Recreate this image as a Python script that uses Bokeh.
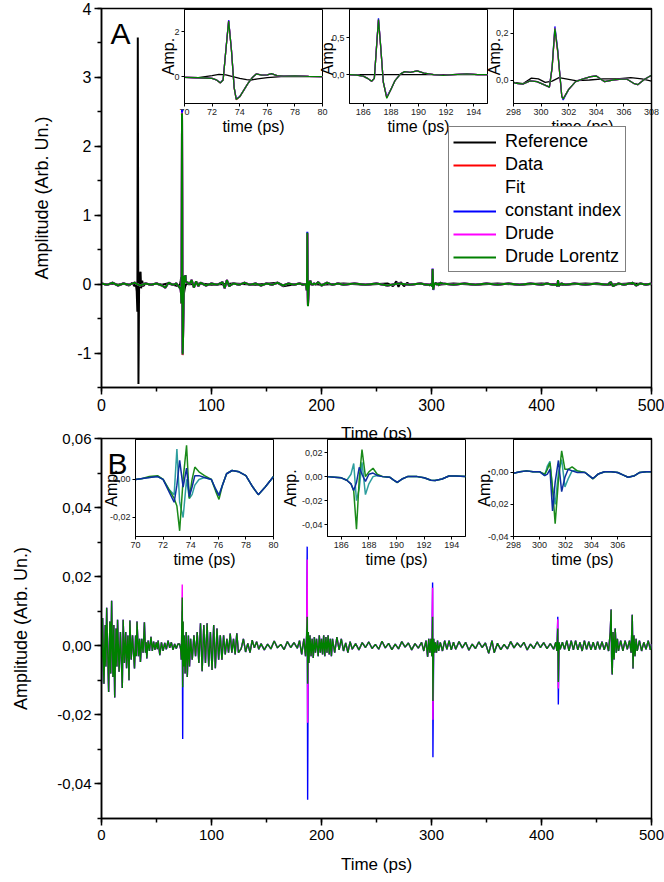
from bokeh.plotting import figure
from bokeh.models import (Range1d, SingleIntervalTicker, FixedTicker, CustomJSTickFormatter,
                          Legend, LegendItem, Label)
from bokeh.layouts import column
from bokeh.embed import file_html
from bokeh.resources import INLINE

FONT = "Liberation Sans"

# ---------------- Panel A data (time in ps, amplitude arb. un.) ----------------
tA_s1 = [0, 5, 10, 15, 20, 25, 30, 35, 40, 45, 50, 55, 58, 61, 65, 68]
baseA_s1 = [0.01, -0.01, 0.02, -0.02, 0.01, -0.01, 0.02, -0.02, 0.01, -0.01, 0.01, -0.02, -0.05, 0.02, -0.01, 0.01]
tA_w1 = [70, 71, 71.5, 72, 72.3, 72.6, 72.8, 73.0, 73.2, 73.4, 73.6, 73.75, 74.0, 74.3, 74.6, 74.9, 75.2, 75.6, 76.0, 76.3, 76.7, 77.2, 78, 79, 80]
dataA_w1 = [-0.03, -0.05, -0.06, -0.08, -0.14, -0.28, -0.15, 1.20, 2.50, 1.20, -0.50, -1.03, -0.90, -0.60, -0.30, -0.05, 0.12, 0.07, 0.08, 0.13, 0.05, 0.02, 0.03, 0.01, 0.00]
constA_w1 = [-0.03, -0.05, -0.06, -0.08, -0.14, -0.27, -0.14, 1.22, 2.53, 1.22, -0.48, -1.00, -0.89, -0.60, -0.30, -0.05, 0.12, 0.07, 0.08, 0.13, 0.05, 0.02, 0.03, 0.01, 0.00]
drudeA_w1 = [-0.03, -0.05, -0.06, -0.08, -0.14, -0.28, -0.15, 1.20, 2.49, 1.19, -0.50, -1.02, -0.90, -0.60, -0.30, -0.05, 0.12, 0.07, 0.08, 0.13, 0.05, 0.02, 0.03, 0.01, 0.00]
dlA_w1 = [-0.03, -0.05, -0.06, -0.08, -0.14, -0.28, -0.15, 1.19, 2.48, 1.19, -0.50, -1.02, -0.90, -0.60, -0.30, -0.05, 0.12, 0.07, 0.08, 0.13, 0.05, 0.02, 0.03, 0.01, 0.00]
tA_s2 = [82, 84, 86, 88, 90, 95, 100, 105, 110, 112, 114, 116, 120, 125, 130, 135, 140, 145, 150, 155, 160, 165, 170, 175, 180, 183]
baseA_s2 = [0.06, -0.05, 0.04, -0.03, 0.02, -0.02, 0.01, -0.01, 0.03, -0.06, 0.06, -0.03, 0.01, -0.01, 0.02, -0.01, 0.01, -0.02, 0.01, -0.01, 0.02, -0.02, 0.01, -0.01, 0.01, -0.01]
tA_w2 = [185, 185.5, 186, 186.3, 186.6, 186.8, 186.95, 187.1, 187.25, 187.45, 187.7, 188.0, 188.3, 188.7, 189.0, 189.4, 189.9, 190.4, 191.1, 191.8, 192.5, 193.5, 194.3, 195]
dataA_w2 = [0.0, -0.005, -0.02, -0.05, -0.09, -0.05, 0.35, 0.74, 0.40, -0.10, -0.31, -0.20, -0.08, 0.01, 0.04, 0.03, 0.05, 0.02, 0.0, -0.01, 0.0, 0.01, 0.0, 0.0]
constA_w2 = [0.0, -0.005, -0.02, -0.05, -0.09, -0.05, 0.36, 0.76, 0.41, -0.10, -0.30, -0.20, -0.08, 0.01, 0.04, 0.03, 0.05, 0.02, 0.0, -0.01, 0.0, 0.01, 0.0, 0.0]
drudeA_w2 = [0.0, -0.005, -0.02, -0.05, -0.09, -0.05, 0.35, 0.74, 0.40, -0.10, -0.31, -0.20, -0.08, 0.01, 0.04, 0.03, 0.05, 0.02, 0.0, -0.01, 0.0, 0.01, 0.0, 0.0]
dlA_w2 = [0.0, -0.005, -0.02, -0.05, -0.09, -0.05, 0.35, 0.745, 0.40, -0.10, -0.32, -0.20, -0.08, 0.01, 0.04, 0.03, 0.05, 0.02, 0.0, -0.01, 0.0, 0.01, 0.0, 0.0]
tA_s3 = [197, 200, 205, 210, 215, 220, 230, 240, 250, 260, 270, 280, 290, 295]
baseA_s3 = [0.03, -0.02, 0.02, -0.01, 0.01, -0.01, 0.01, -0.01, 0.01, -0.02, 0.01, -0.01, 0.01, -0.01]
tA_w3 = [298, 298.2, 298.7, 299.2, 299.7, 300.2, 300.6, 300.8, 301.0, 301.2, 301.5, 301.6, 302.0, 302.5, 303.0, 303.6, 304.0, 304.6, 305.2, 305.8, 306.2, 306.7, 307.0, 307.5, 308]
dataA_w3 = [-0.01, -0.014, -0.017, -0.004, -0.007, -0.02, -0.03, 0.05, 0.215, 0.12, -0.07, -0.08, -0.04, -0.007, 0.004, 0.014, 0.017, -0.007, 0.0, 0.004, 0.004, -0.014, -0.02, 0.003, 0.02]
constA_w3 = [-0.01, -0.014, -0.017, -0.004, -0.007, -0.02, -0.03, 0.055, 0.228, 0.13, -0.07, -0.085, -0.04, -0.007, 0.004, 0.014, 0.017, -0.007, 0.0, 0.004, 0.004, -0.014, -0.02, 0.003, 0.02]
drudeA_w3 = [-0.01, -0.014, -0.017, -0.004, -0.007, -0.02, -0.03, 0.055, 0.222, 0.125, -0.07, -0.08, -0.04, -0.007, 0.004, 0.014, 0.017, -0.007, 0.0, 0.004, 0.004, -0.014, -0.02, 0.003, 0.02]
dlA_w3 = [-0.01, -0.014, -0.017, -0.004, -0.007, -0.02, -0.03, 0.055, 0.220, 0.125, -0.07, -0.08, -0.04, -0.007, 0.004, 0.014, 0.017, -0.007, 0.0, 0.004, 0.004, -0.014, -0.02, 0.003, 0.02]
tA_s4 = [310, 320, 330, 340, 350, 360, 370, 380, 390, 400, 405, 410, 413, 414, 414.5, 415, 415.6, 416, 418, 422, 430, 440, 450, 460, 463, 465, 470, 475, 480, 483, 486, 490, 495, 500]
baseA_s4 = [0.01, -0.01, 0.01, -0.01, 0.01, -0.01, 0.01, -0.01, 0.01, -0.01, 0.01, -0.01, -0.01, -0.02, -0.03, 0.06, -0.03, -0.02, 0.01, -0.01, 0.01, -0.01, 0.01, -0.01, 0.03, -0.03, 0.01, -0.01, 0.01, 0.02, -0.02, 0.01, -0.01, 0.01]

tA = tA_s1 + tA_w1 + tA_s2 + tA_w2 + tA_s3 + tA_w3 + tA_s4
dataA = baseA_s1 + dataA_w1 + baseA_s2 + dataA_w2 + baseA_s3 + dataA_w3 + baseA_s4
constA = baseA_s1 + constA_w1 + baseA_s2 + constA_w2 + baseA_s3 + constA_w3 + baseA_s4
drudeA = baseA_s1 + drudeA_w1 + baseA_s2 + drudeA_w2 + baseA_s3 + drudeA_w3 + baseA_s4
dlA = baseA_s1 + dlA_w1 + baseA_s2 + dlA_w2 + baseA_s3 + dlA_w3 + baseA_s4

tRef = [0, 5, 10, 15, 20, 25, 28, 30, 31, 32, 32.6, 33.0, 33.6, 34.2, 35.0, 35.5, 36.0, 37, 38, 40,
        45, 50, 55, 60, 65, 70, 71, 72, 72.5, 73, 73.5, 74, 74.5, 74.8, 75.3, 76, 77, 78, 79, 80,
        90, 100, 120, 140, 160, 165, 180, 185, 190, 195, 200, 220, 240, 260, 265, 268, 270, 272, 275, 278,
        280, 290, 298, 298.7, 299.3, 299.8, 300.3, 300.8, 301.3, 301.8, 302.5, 303.5, 304.5, 305.5, 306.5, 307.3, 308, 320, 340, 360,
        380, 400, 420, 440, 460, 480, 500]
refA = [0.01, -0.01, 0.01, -0.01, 0.01, -0.02, 0.02, -0.03, 0.03, -0.1, -0.4, 3.58, -1.45, 0.05, 0.15, 0.18, -0.06, 0.05, -0.03, 0.01,
        -0.01, 0.01, -0.01, 0.01, -0.01, -0.03, -0.04, 0.05, 0.1, 0.08, 0.0, -0.08, -0.13, -0.15, -0.1, -0.04, 0.0, 0.01, 0.0, 0.0,
        0.01, -0.01, 0.01, -0.01, 0.02, -0.03, 0.01, 0.0, 0.0, 0.0, -0.01, 0.01, -0.01, 0.01, -0.03, 0.04, -0.04, 0.03, -0.03, 0.02,
        -0.01, 0.01, -0.01, -0.015, 0.008, 0.005, -0.01, -0.005, 0.01, 0.005, -0.003, 0.0, 0.005, 0.005, 0.01, 0.005, -0.005, 0.01, -0.01, 0.01,
        -0.01, 0.01, -0.01, 0.01, -0.01, 0.01, 0.0]

# ---------------- Panel B data (residual amplitudes) ----------------
tB_s1 = [0.0, 1.0, 2.2, 3.4, 4.0, 4.7, 6.5, 7.6, 8.4, 9.2, 10.4, 11.2, 12.0, 13.2, 14.0, 14.6, 16.0, 17.2, 18.9, 19.7,
         20.8, 22.0, 22.8, 24.0, 25.0, 25.8, 27.0, 28.2, 30.0, 31.0, 31.6, 32.3, 33.6, 34.6, 35.4, 36.6, 37.8, 39.0, 40.0, 40.6,
         41.2, 42.4, 43.6, 45.0, 46.2, 47.4, 48.6, 49.8, 50.8]
baseB_s1 = [-0.011, 0.008, -0.011, 0.006, -0.006, 0.011, -0.0134, 0.007, -0.008, 0.013,
            -0.009, 0.006, -0.015, 0.005, -0.006, 0.0075, -0.0075, 0.004, -0.0122, 0.0075,
            -0.005, 0.004, -0.0065, 0.003, -0.010, 0.0073, -0.004, 0.003, -0.0066, 0.003,
            -0.003, 0.007, -0.003, 0.002, -0.0047, 0.002, -0.002, 0.0068, -0.002, 0.001,
            -0.0037, 0.0015, -0.0015, 0.0026, -0.0015, 0.0012, -0.0012, 0.001, -0.001]
tB_s2 = [51.5, 53, 54.5, 56, 57.5, 59, 60.5, 62, 63.5, 65, 66.5, 68, 69.5]
baseB_s2 = [0.0015, -0.0027, 0.001, -0.0015, 0.0008, -0.001, 0.0015, -0.0006, 0.001, -0.0012, 0.0005, -0.0008, 0.0005]
tB_w1 = [71, 72, 72.6, 73.0, 73.4, 73.8, 74.2, 74.6, 75.2, 76, 77, 78, 79, 80]
dlB_w1 = [0.0005, -0.001, -0.004, 0.006, 0.014, -0.012, 0.007, -0.006, 0.003, -0.008, 0.004, -0.009, 0.003, -0.006]
constB_w1 = [0.0005, -0.001, -0.004, 0.004, 0.010, -0.027, 0.0065, -0.006, 0.003, -0.008, 0.004, -0.009, 0.003, -0.006]
drudeB_w1 = [0.0005, -0.001, -0.004, 0.006, 0.0177, -0.011, 0.007, -0.006, 0.003, -0.008, 0.004, -0.009, 0.003, -0.006]
tB_s3 = [81, 82.5, 84, 85.5, 87, 88.5, 90, 91.5, 93, 94.5, 96, 97.5, 99, 100.5, 102, 103.5, 105, 106.5, 108, 109.5,
         111, 112.5, 114, 115.5, 117, 118.5, 120, 121.5, 123, 124.5,
         127, 129, 131, 133, 135, 137, 139, 141, 143, 145,
         148, 151, 154, 157, 160, 163, 166, 169, 172, 175, 178, 180, 182, 184, 185.5]
baseB_s3 = [0.002, -0.004, 0.003, -0.003, 0.004, -0.005, 0.0065, -0.0074, 0.006, -0.005,
            0.0065, -0.006, 0.004, -0.007, 0.006, -0.0065, 0.005, -0.004, 0.003, -0.004,
            0.003, -0.0025, 0.002, -0.002, 0.0035, -0.002, 0.002, -0.0025, 0.0036, -0.002,
            -0.0008, 0.002, -0.0018, 0.0007, -0.002, 0.0016, -0.0006, 0.0012, -0.001, 0.0006,
            -0.0012, 0.0005, -0.0009, 0.0014, -0.0006, 0.0004, -0.0011, 0.0012, -0.0005, 0.0009, -0.0007,
            0.0015, -0.0025, 0.002, -0.003]
tB_w2 = [186.5, 187.0, 187.4, 188.0, 188.5, 189.5, 190.5, 191.5, 192.5, 193.5, 194.5, 195.5]
dlB_w2 = [0.003, 0.0084, -0.011, 0.004, -0.005, 0.003, -0.003, 0.002, -0.0035, 0.0025, -0.002, 0.002]
constB_w2 = [0.003, 0.0287, -0.0446, 0.004, -0.005, 0.003, -0.003, 0.002, -0.0035, 0.0025, -0.002, 0.002]
drudeB_w2 = [0.003, 0.025, -0.0223, 0.004, -0.005, 0.003, -0.003, 0.002, -0.0035, 0.0025, -0.002, 0.002]
tB_s4 = [197, 198, 199, 200, 201, 202, 203, 204, 205, 206, 207, 208, 209, 210,
         212, 214, 216, 218, 220, 222, 224, 226, 228,
         231, 234, 237, 240, 243, 246, 249, 252, 255, 258, 261, 264, 267, 270, 273, 276, 279, 282, 285, 288, 291,
         293, 295, 296.5, 297.5, 298.5, 299.5, 300.3]
baseB_s4 = [-0.003, 0.003, -0.002, 0.002, -0.0025, 0.003, -0.003, 0.0025, -0.002, 0.003, -0.0025, 0.002, -0.003, 0.002,
            -0.002, 0.0025, -0.0012, 0.002, -0.0015, 0.0008, -0.002, 0.0012, -0.001,
            0.0006, -0.0012, 0.0009, -0.0005, 0.0011, -0.0008, 0.0004, -0.001, 0.0013, -0.0006, 0.0007, -0.0011, 0.0005, -0.0009, 0.0012, -0.0004, 0.0008, -0.0012, 0.0006, -0.0007, 0.001,
            -0.0015, 0.0015, -0.0032, 0.002, -0.002, 0.002, -0.003]
tB_w3 = [301.0, 301.3, 302.0, 302.8, 303.5, 304.5, 305.5, 306.5]
dlB_w3 = [0.0084, -0.016, 0.002, -0.002, 0.001, -0.002, 0.0015, -0.0015]
constB_w3 = [0.0183, -0.0323, 0.002, -0.002, 0.001, -0.002, 0.0015, -0.0015]
drudeB_w3 = [0.0168, -0.0214, 0.002, -0.002, 0.001, -0.002, 0.0015, -0.0015]
tB_s5 = [308, 310, 312, 314, 316, 318, 320, 322,
         325, 328, 331, 334, 337, 340, 343, 346, 349, 352, 355, 357,
         360, 363, 366, 369, 372, 375, 378, 381, 384, 387, 390, 393, 396, 399, 402, 405, 408, 411, 413, 414]
baseB_s5 = [0.001, -0.0015, 0.0015, -0.001, 0.0015, -0.0012, 0.001, -0.001,
            0.0012, -0.0006, 0.001, -0.0013, 0.0005, -0.0008, 0.0011, -0.0005, 0.0008, -0.0022, 0.0015, -0.002,
            0.0007, -0.0011, 0.0004, -0.0009, 0.0012, -0.0006, 0.0008, -0.0004, 0.001, -0.0012, 0.0005, -0.0008,
            0.0011, -0.0005, 0.0009, -0.0008, 0.0006, -0.001, 0.001, -0.0015]
tB_w4 = [414.8, 415.3, 416, 417]
dlB_w4 = [0.005, -0.0105, 0.001, -0.001]
constB_w4 = [0.0084, -0.017, 0.001, -0.001]
drudeB_w4 = [0.0077, -0.0124, 0.001, -0.001]
tB_s6 = [419, 421, 423, 425, 427, 429, 431, 433, 435, 437, 439, 441, 443, 445, 447, 449, 451, 453, 455, 457, 459, 461,
         462.5, 463.3, 463.8, 464.3, 465, 466, 467, 468, 469, 470, 472, 474, 476, 478, 480,
         481.5, 482.5, 483.2, 484, 485, 486, 487, 489, 491, 493, 495, 497, 499, 500]
baseB_s6 = [0.001, -0.001, 0.0015, -0.0015, 0.0015, -0.0012, 0.0015, -0.0012, 0.001, -0.0015, 0.0015, -0.001,
            0.0012, -0.0012, 0.001, -0.0012, 0.0012, -0.001, 0.0012, -0.0012, 0.001, -0.0015,
            0.004, 0.0105, -0.005, -0.0083, 0.004, -0.004, 0.005, -0.002, 0.002, -0.0015,
            0.0015, -0.0015, 0.0015, -0.001, 0.0015,
            -0.002, 0.009, -0.0066, 0.003, -0.003, 0.002, -0.0015,
            0.0015, -0.0015, 0.001, -0.001, 0.0015, -0.0012, 0.0005]

tB = tB_s1 + tB_s2 + tB_w1 + tB_s3 + tB_w2 + tB_s4 + tB_w3 + tB_s5 + tB_w4 + tB_s6
dlB = baseB_s1 + baseB_s2 + dlB_w1 + baseB_s3 + dlB_w2 + baseB_s4 + dlB_w3 + baseB_s5 + dlB_w4 + baseB_s6
constB = baseB_s1 + baseB_s2 + constB_w1 + baseB_s3 + constB_w2 + baseB_s4 + constB_w3 + baseB_s5 + constB_w4 + baseB_s6
drudeB = baseB_s1 + baseB_s2 + drudeB_w1 + baseB_s3 + drudeB_w2 + baseB_s4 + drudeB_w3 + baseB_s5 + drudeB_w4 + baseB_s6

# Panel B insets
tBi1 = [70.0, 70.5, 71.0, 71.6, 72.0, 72.4, 72.8, 73.0, 73.2, 73.45, 73.7, 73.9, 74.1, 74.3, 74.6, 75.0, 75.5, 75.8, 76.05, 76.3, 76.6, 77.0, 77.5, 78.0, 78.5, 78.9, 79.4, 80.0]
blueBi1 = [0.0, 0.0005, 0.001, 0.0015, 0.0, -0.006, -0.012, -0.003, 0.010, -0.004, 0.006, -0.009, -0.004, 0.002, 0.002, 0.001, 0.0, -0.005, -0.0085, -0.003, 0.003, 0.0047, 0.004, 0.002, -0.004, -0.008, -0.004, 0.0015]
tealBi1 = [0.0, 0.0005, 0.001, 0.0015, 0.0, -0.005, -0.008, 0.016, -0.012, -0.02, 0.0, -0.01, -0.008, -0.003, 0.0, 0.001, 0.0, -0.005, -0.008, -0.003, 0.003, 0.0047, 0.004, 0.002, -0.004, -0.008, -0.004, 0.0015]
greenBi1 = [0.0, 0.0005, 0.0015, 0.002, 0.0, -0.005, -0.01, -0.014, -0.027, 0.0, 0.018, -0.01, 0.0, 0.0065, 0.004, 0.002, 0.0, -0.006, -0.0105, -0.003, 0.003, 0.0047, 0.004, 0.002, -0.004, -0.008, -0.004, 0.0015]
tBi2 = [185.0, 185.5, 186.0, 186.4, 186.7, 186.9, 187.1, 187.3, 187.5, 187.75, 188.0, 188.3, 188.6, 189.0, 189.5, 189.8, 190.05, 190.4, 190.8, 191.5, 192.0, 192.5, 192.8, 193.3, 193.8, 194.3, 195.0]
blueBi2 = [0.0, -0.0005, -0.001, -0.003, -0.006, -0.0115, -0.005, 0.0078, 0.002, -0.004, 0.002, 0.003, 0.001, 0.0, -0.0005, -0.003, -0.0047, -0.002, 0.0, 0.0, -0.001, -0.003, -0.0033, -0.002, 0.0005, 0.0005, 0.0]
tealBi2 = [0.0, -0.0005, -0.001, -0.003, 0.002, 0.011, -0.02, -0.01, 0.012, -0.015, -0.006, 0.0, 0.001, 0.0, -0.0005, -0.003, -0.0047, -0.002, 0.0, 0.0, -0.001, -0.003, -0.0033, -0.002, 0.0005, 0.0005, 0.0]
greenBi2 = [0.0, -0.0005, -0.001, -0.003, -0.006, -0.012, -0.044, -0.002, 0.0225, 0.0, 0.004, 0.007, 0.002, 0.0, -0.0005, -0.003, -0.005, -0.002, 0.0, 0.0, -0.001, -0.003, -0.0033, -0.002, 0.0005, 0.0005, 0.0]
tBi3 = [298.0, 298.5, 299.0, 299.5, 300.0, 300.4, 300.6, 300.8, 301.0, 301.2, 301.45, 301.7, 301.95, 302.2, 302.5, 302.9, 303.5, 303.8, 304.1, 304.5, 305.0, 305.5, 306.0, 306.4, 306.8, 307.3, 307.7, 308.2, 308.6]
blueBi3 = [-0.0005, 0.0005, 0.001, 0.0005, 0.0005, -0.002, -0.001, 0.002, -0.024, -0.006, 0.0075, -0.012, -0.003, 0.002, 0.001, 0.0, 0.0, -0.002, -0.0038, -0.001, 0.0005, 0.0005, 0.0, -0.0015, -0.003, -0.002, 0.0, 0.0005, 0.0005]
tealBi3 = [-0.0005, 0.0005, 0.001, 0.0005, 0.0005, -0.002, 0.004, 0.007, -0.01, -0.02, 0.0, 0.008, -0.009, -0.004, 0.001, 0.001, 0.0, -0.002, -0.0038, -0.001, 0.0005, 0.0005, 0.0, -0.0015, -0.003, -0.002, 0.0, 0.0005, 0.0005]
greenBi3 = [-0.0005, 0.0005, 0.001, 0.0005, 0.0005, -0.001, 0.002, 0.006, -0.01, -0.032, -0.005, 0.0135, 0.002, 0.002, 0.0035, 0.001, 0.0, -0.002, -0.004, -0.001, 0.0005, 0.0005, 0.0, -0.0015, -0.003, -0.002, 0.0, 0.0005, 0.0005]

legend_labels = ["Reference", "Data", "Fit", "constant index", "Drude", "Drude Lorentz"]

assert len(tA) == len(dataA) == len(constA) == len(drudeA) == len(dlA)
assert len(tRef) == len(refA)
assert len(tB) == len(dlB) == len(constB) == len(drudeB)

C_REF, C_DATA, C_CONST, C_DRUDE, C_DL = "black", "#ff0000", "#0000ff", "#ff00ff", "#008000"
C_IN_GREEN, C_IN_TEAL, C_IN_BLUE = "#1a8a1a", "#2e9e9e", "#0c2ea0"


def comma_fmt(dec):
    return CustomJSTickFormatter(code=(
        "if (Math.abs(tick) < 1e-9) { tick = 0; } "
        "return tick.toFixed(%d).replace('.', ',');" % dec))


def style_axis(ax, tick_size, label_size, tick_out, minor_out, lw):
    ax.major_label_text_font = FONT
    ax.major_label_text_font_size = tick_size
    ax.major_label_text_color = "black"
    ax.axis_label_text_font = FONT
    ax.axis_label_text_font_size = label_size
    ax.axis_label_text_font_style = "normal"
    ax.axis_label_text_color = "black"
    ax.axis_line_width = lw
    ax.axis_line_color = "black"
    ax.major_tick_line_width = lw
    ax.major_tick_line_color = "black"
    ax.minor_tick_line_width = lw
    ax.minor_tick_line_color = "black"
    ax.major_tick_in = 0
    ax.major_tick_out = tick_out
    ax.minor_tick_in = 0
    ax.minor_tick_out = minor_out


# ---------------- inset factory ----------------
# Bokeh aligns the horizontal borders of plots in one column, so insets share the
# main panels' left/right borders (transparent); position is set through margins.
LB, RB, TB, BB = 101, 13, 5, 40


def make_inset(xr, yr, xticks, yticks, ydec, ylab_sd, fw, fh):
    p = figure(width=LB + fw + RB, height=TB + fh + BB,
               x_range=Range1d(*xr), y_range=Range1d(*yr),
               toolbar_location=None, output_backend="svg",
               min_border_left=LB, min_border_right=RB, min_border_top=TB, min_border_bottom=BB,
               background_fill_color="white", border_fill_color=None,
               outline_line_color="black", outline_line_width=1)
    p.xgrid.visible = False
    p.ygrid.visible = False
    p.xaxis.ticker = FixedTicker(ticks=xticks)
    p.yaxis.ticker = FixedTicker(ticks=yticks)
    p.yaxis.formatter = comma_fmt(ydec)
    p.xaxis.axis_label = "time (ps)"
    p.yaxis.axis_label = "Amp."
    for ax in (p.xaxis[0], p.yaxis[0]):
        style_axis(ax, "9px", "16px", 3, 0, 1)
        ax.major_label_standoff = 2
        ax.major_label_text_color = "#222222"
    p.xaxis.axis_label_standoff = 0
    p.yaxis.axis_label_standoff = ylab_sd
    return p


def add_A_lines(p, w):
    p.line(tRef, refA, line_color=C_REF, line_width=w)
    p.line(tA, dataA, line_color=C_DATA, line_width=w)
    p.line(tA, constA, line_color=C_CONST, line_width=w)
    p.line(tA, drudeA, line_color=C_DRUDE, line_width=w)
    p.line(tA, dlA, line_color=C_DL, line_width=w)


# A insets
iA1 = make_inset((70, 80), (-1.2, 3.0), [70, 72, 74, 76, 78, 80], [0, 2], 0, -6, 138, 94)
iA2 = make_inset((185, 195), (-0.39, 0.88), [186, 188, 190, 192, 194], [0, 0.5], 1, -7, 138, 94)
iA3 = make_inset((298, 308), (-0.1, 0.3), [298, 300, 302, 304, 306, 308], [0, 0.2], 1, -10, 138, 94)
for ip in (iA1, iA2, iA3):
    add_A_lines(ip, 1.3)

# B insets
iB1 = make_inset((70, 80), (-0.03, 0.021), [70, 72, 74, 76, 78, 80], [-0.02, 0.0], 2, -13, 138, 97)
iB2 = make_inset((185, 195), (-0.05, 0.031), [186, 188, 190, 192, 194], [-0.04, -0.02, 0.0, 0.02], 2, 0, 138, 97)
iB3 = make_inset((298, 308.6), (-0.04, 0.0206), [298, 300, 302, 304, 306], [-0.04, -0.02, 0.0], 2, -8, 138, 97)
for ip, tt, gg, cc, bb in ((iB1, tBi1, greenBi1, tealBi1, blueBi1),
                           (iB2, tBi2, greenBi2, tealBi2, blueBi2),
                           (iB3, tBi3, greenBi3, tealBi3, blueBi3)):
    ip.line(tt, cc, line_color=C_IN_TEAL, line_width=1.5)
    ip.line(tt, gg, line_color=C_IN_GREEN, line_width=1.5)
    ip.line(tt, bb, line_color=C_IN_BLUE, line_width=1.5)

# ---------------- main panel A ----------------
pA = figure(width=664, height=445, x_range=Range1d(0, 500), y_range=Range1d(-1.5, 4),
            toolbar_location=None, output_backend="svg",
            min_border_left=101, min_border_right=13, min_border_top=8, min_border_bottom=58,
            background_fill_color=None, border_fill_color=None,
            outline_line_color="black", outline_line_width=1.5)
pA.xgrid.visible = False
pA.ygrid.visible = False
pA.xaxis.ticker = SingleIntervalTicker(interval=100, num_minor_ticks=2)
pA.yaxis.ticker = SingleIntervalTicker(interval=1, num_minor_ticks=2)
pA.yaxis.formatter = comma_fmt(0)
pA.xaxis.axis_label = "Time (ps)"
pA.yaxis.axis_label = "Amplitude (Arb. Un.)"
style_axis(pA.xaxis[0], "16px", "17px", 7, 4, 1.5)
style_axis(pA.yaxis[0], "16px", "18px", 7, 4, 1.5)
pA.xaxis.major_label_standoff = 4
pA.yaxis.major_label_standoff = 3
pA.xaxis.axis_label_standoff = 10
pA.yaxis.axis_label_standoff = 22

r_ref = pA.line(tRef, refA, line_color=C_REF, line_width=2)
r_data = pA.line(tA, dataA, line_color=C_DATA, line_width=2)
r_const = pA.line(tA, constA, line_color=C_CONST, line_width=2)
r_drude = pA.line(tA, drudeA, line_color=C_DRUDE, line_width=2)
r_dl = pA.line(tA, dlA, line_color=C_DL, line_width=2)
r_fit = pA.line([0, 0], [0, 0], line_alpha=0)

legend = Legend(items=[LegendItem(label=lab, renderers=[r]) for lab, r in
                       zip(legend_labels, [r_ref, r_data, r_fit, r_const, r_drude, r_dl])],
                location=(347, 115))
legend.label_text_font = FONT
legend.label_text_font_size = "18px"
legend.label_text_color = "black"
legend.glyph_width = 43
legend.glyph_height = 18
legend.label_height = 18
legend.label_standoff = 9
legend.spacing = 2
legend.padding = 4
legend.margin = 0
legend.border_line_color = "black"
legend.border_line_width = 1
legend.background_fill_color = "white"
legend.background_fill_alpha = 1
pA.add_layout(legend)
pA.add_layout(Label(x=8.2, y=3.63, text="A", text_font=FONT, text_font_size="30px",
                    text_baseline="alphabetic", text_color="black"))

# ---------------- main panel B ----------------
pB = figure(width=664, height=456, x_range=Range1d(0, 500), y_range=Range1d(-0.05, 0.06),
            toolbar_location=None, output_backend="svg",
            min_border_left=101, min_border_right=13, min_border_top=18, min_border_bottom=56,
            background_fill_color=None, border_fill_color=None,
            outline_line_color="black", outline_line_width=1.5)
pB.xgrid.visible = False
pB.ygrid.visible = False
pB.xaxis.ticker = SingleIntervalTicker(interval=100, num_minor_ticks=2)
pB.yaxis.ticker = SingleIntervalTicker(interval=0.02, num_minor_ticks=2)
pB.yaxis.formatter = comma_fmt(2)
pB.xaxis.axis_label = "Time (ps)"
pB.yaxis.axis_label = "Amplitude (Arb. Un.)"
style_axis(pB.xaxis[0], "15px", "17px", 7, 4, 1.5)
style_axis(pB.yaxis[0], "15px", "18px", 7, 4, 1.5)
pB.xaxis.major_label_standoff = 4
pB.yaxis.major_label_standoff = 3
pB.xaxis.axis_label_standoff = 12
pB.yaxis.axis_label_standoff = 23
pB.line(tB, constB, line_color=C_CONST, line_width=1.4)
pB.line(tB, drudeB, line_color=C_DRUDE, line_width=1.4)
pB.line(tB, dlB, line_color=C_DL, line_width=1.4)
pB.add_layout(Label(x=5.5, y=0.0528, text="B", text_font=FONT, text_font_size="30px",
                    text_baseline="alphabetic", text_color="black"))

# ---------------- overlapping layout via margins ----------------
children = []
cursor = [0]


def place(fig, top, left, restore):
    fig.margin = (top - cursor[0], 0, restore - (top + fig.height), left)
    cursor[0] = restore
    children.append(fig)


place(iA1, 9 - TB, 184 - LB, 0)
place(iA2, 9 - TB, 349 - LB, 0)
place(iA3, 9 - TB, 513 - LB, 0)
place(pA, 0, 0, 445)
place(iB1, 439 - TB, 135 - LB, 445)
place(iB2, 439 - TB, 327 - LB, 445)
place(iB3, 439 - TB, 513 - LB, 445)
place(pB, 420, 0, 866)

root = column(*children)
open("out.html", "w").write(file_html(root, INLINE))
